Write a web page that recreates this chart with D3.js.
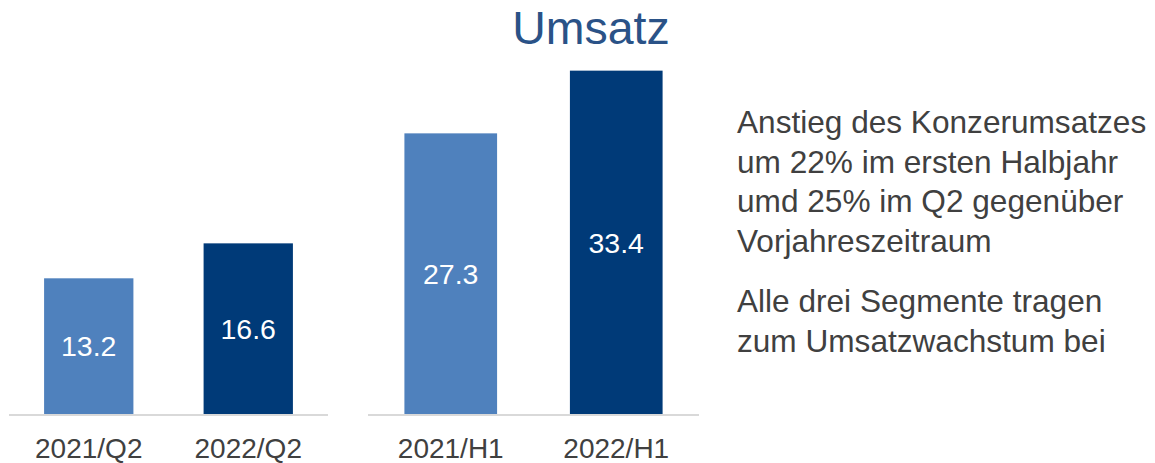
<!DOCTYPE html>
<html>
<head>
<meta charset="utf-8">
<script src="https://cdn.jsdelivr.net/npm/d3@7"></script>
<style>
  body { margin: 0; background: #fff; }
  svg { display: block; font-family: 'Liberation Sans', Arial, sans-serif; }
</style>
</head>
<body>
<svg id="chart"></svg>
<script>
const quarterLabels = ['2021/Q2', '2022/Q2']
const quarterValues = [13.2, 16.6]
const halfLabels = ['2021/H1', '2022/H1']
const halfValues = [27.3, 33.4]
const notes = [
  ['Anstieg des Konzerumsatzes', 'um 22% im ersten Halbjahr', 'umd 25% im Q2 gegenüber', 'Vorjahreszeitraum'],
  ['Alle drei Segmente tragen', 'zum Umsatzwachstum bei']
]

document.addEventListener('DOMContentLoaded', function () {
  const width = 1155
  const height = 463

  const colours = {
    light: '#4f81bd',
    dark: '#003a78',
    title: '#2a5287',
    text: '#404040',
    axis: '#d9d9d9'
  }

  const svg = d3.select('#chart')
    .attr('width', width)
    .attr('height', height)

  const y = d3.scaleLinear()
    .domain([0, 40])
    .range([414, 2.8])

  const drawGroup = (labels, values, x0, x1) => {
    const x = d3.scaleBand()
      .domain(labels)
      .range([x0, x1])
      .paddingInner(0.44)
      .paddingOuter(0.22)

    const g = svg.append('g')
    const data = labels.map((d, i) => ({ label: d, value: values[i], i }))

    g.selectAll('rect')
      .data(data)
      .enter()
      .append('rect')
      .attr('x', d => x(d.label))
      .attr('y', d => y(d.value))
      .attr('width', x.bandwidth())
      .attr('height', d => y(0) - y(d.value))
      .style('fill', d => d.i === 0 ? colours.light : colours.dark)

    g.selectAll('text.val')
      .data(data)
      .enter()
      .append('text')
      .attr('class', 'val')
      .attr('x', d => x(d.label) + x.bandwidth() / 2)
      .attr('y', d => (y(d.value) + y(0)) / 2)
      .attr('dy', '0.36em')
      .attr('text-anchor', 'middle')
      .style('font-size', '28.5px')
      .style('fill', '#fff')
      .text(d => d.value.toFixed(1))

    g.append('line')
      .attr('x1', x0)
      .attr('x2', x1)
      .attr('y1', y(0) + 1)
      .attr('y2', y(0) + 1)
      .style('stroke', colours.axis)
      .style('stroke-width', 2)

    g.selectAll('text.cat')
      .data(data)
      .enter()
      .append('text')
      .attr('class', 'cat')
      .attr('x', d => x(d.label) + x.bandwidth() / 2)
      .attr('y', 458)
      .attr('text-anchor', 'middle')
      .style('font-size', '28px')
      .style('fill', colours.text)
      .text(d => d.label)
  }

  drawGroup(quarterLabels, quarterValues, 9, 328)
  drawGroup(halfLabels, halfValues, 368, 699)

  svg.append('text')
    .attr('x', 591)
    .attr('y', 44)
    .attr('text-anchor', 'middle')
    .style('font-size', '46.5px')
    .style('fill', colours.title)
    .text('Umsatz')

  // right hand notes
  let lineY = 133
  notes.forEach(para => {
    para.forEach(line => {
      svg.append('text')
        .attr('x', 737)
        .attr('y', lineY)
        .style('font-size', '31.6px')
        .style('fill', colours.text)
        .text(line)
      lineY += 39.6
    })
    lineY += 21
  })
}, false)
</script>
</body>
</html>
